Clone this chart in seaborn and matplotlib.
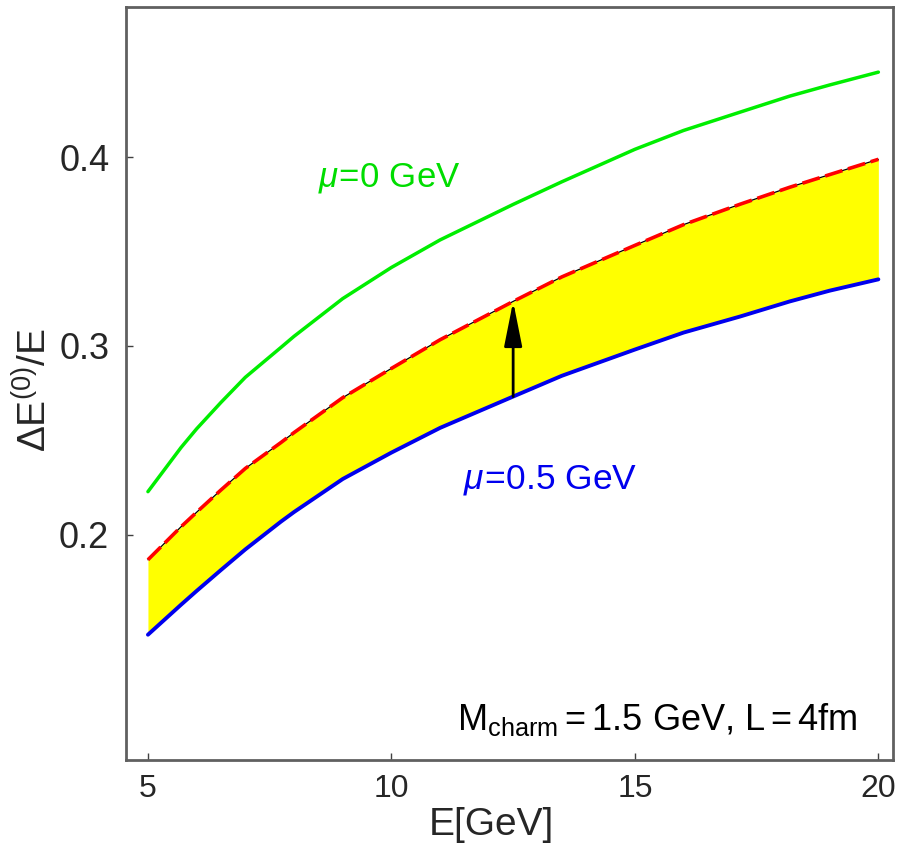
import numpy as np
import pandas as pd
import matplotlib
matplotlib.use("Agg")
import matplotlib.pyplot as plt
import seaborn as sns

# ---- data ----
energy = [5.0, 5.68, 6.0, 6.5, 7.0, 7.73, 8.0, 9.0, 10.0, 11.0, 12.5, 13.5, 15.0,
          16.0, 17.16, 18.18, 19.0, 20.0]
loss_mu0 = [0.2228, 0.2462, 0.2561, 0.2701, 0.2834, 0.2992, 0.3051, 0.3251, 0.3416,
            0.3562, 0.3750, 0.3870, 0.4042, 0.4142, 0.4239, 0.4324, 0.4383, 0.4451]
loss_upper = [0.1867, 0.2042, 0.2119, 0.2237, 0.2351, 0.2488, 0.2541, 0.2726, 0.2881,
              0.3033, 0.3236, 0.3366, 0.3533, 0.3643, 0.3751, 0.3841, 0.3908, 0.3989]
loss_mu05 = [0.1470, 0.1629, 0.1702, 0.1813, 0.1922, 0.2069, 0.2120, 0.2295, 0.2435,
             0.2566, 0.2732, 0.2842, 0.2981, 0.3071, 0.3156, 0.3236, 0.3293, 0.3353]
arrow_E = 12.5
x_ticks = [5, 10, 15, 20]
y_ticks = [0.2, 0.3, 0.4]

sns.set_style("white")
plt.rcParams["font.family"] = ["Liberation Sans", "DejaVu Sans"]
plt.rcParams["mathtext.fontset"] = "custom"
plt.rcParams["mathtext.rm"] = "Liberation Sans"
plt.rcParams["mathtext.it"] = "Liberation Sans:italic"
plt.rcParams["mathtext.default"] = "it"

df = pd.DataFrame({"E": energy, "mu0": loss_mu0, "up": loss_upper, "mu05": loss_mu05})

fig = plt.figure(figsize=(8.97, 8.47), dpi=100)
ax = fig.add_axes([0.1405, 0.1027, 0.855, 0.889])

ax.fill_between(df["E"], df["mu05"], df["up"], color="#ffff00", lw=0, zorder=1)
sns.lineplot(data=df, x="E", y="mu0", ax=ax, color="#00ee00", lw=2.5, zorder=3)
sns.lineplot(data=df, x="E", y="mu05", ax=ax, color="#0000ee", lw=2.8, zorder=3)
sns.lineplot(data=df, x="E", y="up", ax=ax, color="black", lw=0.9, zorder=3)
sns.lineplot(data=df, x="E", y="up", ax=ax, color="#ff0000", lw=2.6, zorder=4,
             linestyle=(0, (5, 1.6)))

i = energy.index(arrow_E)
ax.annotate("", xy=(arrow_E, loss_upper[i]), xytext=(arrow_E, loss_mu05[i]),
            arrowprops=dict(arrowstyle="-|>,head_length=1.25,head_width=0.25",
                            color="black", lw=2, mutation_scale=22,
                            shrinkA=0, shrinkB=0), zorder=5)

ax.text(8.5, 0.389, r"$\mu\!=\!$0 GeV", color="#00dd00", fontsize=25,
        ha="left", va="center")
ax.text(11.46, 0.2292, r"$\mu\!=\!$0.5 GeV", color="#0000ee", fontsize=25.5,
        ha="left", va="center")
ax.text(19.58, 0.1019, r"M$_{\mathrm{charm}}$$=$1.5 GeV, L$=$4fm", color="black",
        fontsize=26, ha="right", va="center")

ax.set_xlim(4.55, 20.3)
ax.set_ylim(0.0806, 0.4796)
ax.set_xticks(x_ticks)
ax.set_xticklabels([str(t) for t in x_ticks], fontsize=23)
ax.set_yticks(y_ticks)
ax.set_yticklabels([f"{t:.1f}" for t in y_ticks], fontsize=26)
ax.tick_params(direction="in", length=5, width=1, color="#404040", pad=10,
               top=False, right=False, left=True, bottom=True)
ax.tick_params(axis="y", pad=12)
for s in ax.spines.values():
    s.set_color("#606060")
    s.set_linewidth(2)

ax.set_xlabel("E[GeV]", fontsize=28)
ax.xaxis.set_label_coords(0.477, -0.062)
ax.set_ylabel(r"$\mathrm{\Delta E}^{(0)}\mathrm{/E}$", fontsize=28)
ax.yaxis.set_label_coords(-0.119, 0.491)
ax.yaxis.label.set_va("center")

fig.savefig("out.png", dpi=100, facecolor="white")
